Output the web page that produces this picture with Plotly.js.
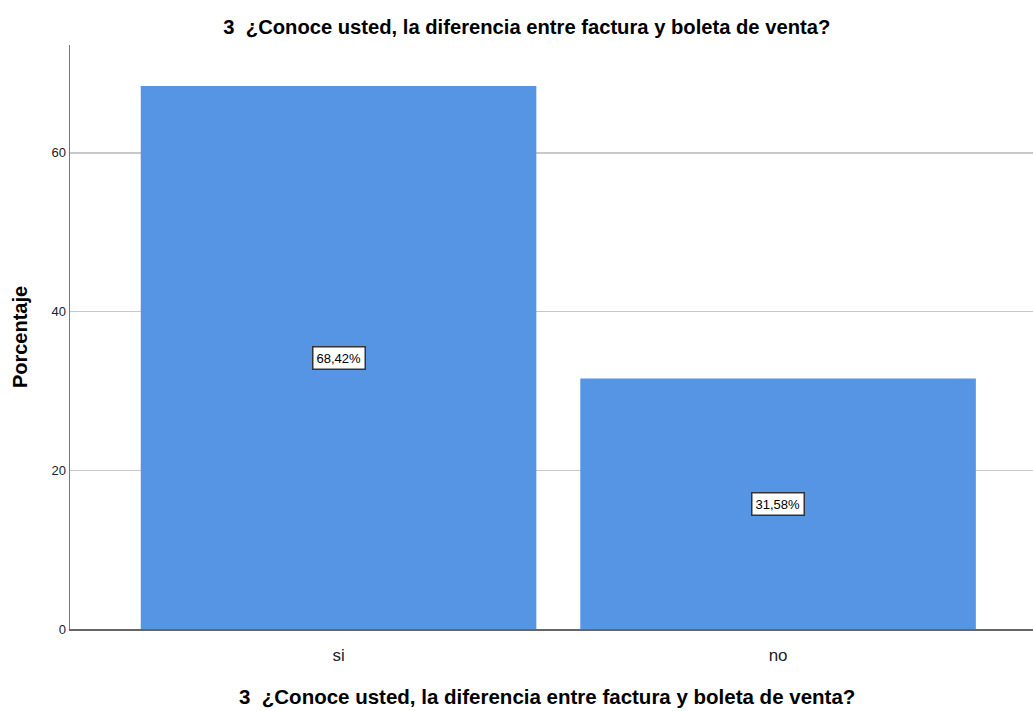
<!DOCTYPE html>
<html>
<head>
<meta charset="utf-8">
<script src="https://cdn.plot.ly/plotly-3.0.1.min.js"></script>
<style>html,body{margin:0;padding:0;background:#fff;}#chart{width:1033px;height:711px;}</style>
</head>
<body>
<div id="chart"></div>
<script>
const categories = ["si", "no"];
const percentages = [68.42, 31.58];
const labels = ["68,42%", "31,58%"];
const yTicks = [0, 20, 40, 60];
const chartTitle = "3  ¿Conoce usted, la diferencia entre factura y boleta de venta?";

const FONT = "'Liberation Sans', Arial, sans-serif";

const trace = {
  type: "bar",
  x: [0, 1],
  y: percentages,
  width: 0.9,
  marker: {color: "#5595e3", line: {width: 0}},
  hoverinfo: "skip"
};

const annotations = percentages.map((v, i) => ({
  x: i, y: v / 2, xref: "x", yref: "y",
  text: labels[i], showarrow: false,
  font: {family: FONT, size: 13, color: "#000"},
  bgcolor: "#ffffff", bordercolor: "#333", borderwidth: 1.5, borderpad: 3
}));
annotations.push({
  xref: "paper", yref: "paper", x: 0.495, y: -0.092,
  xanchor: "center", yanchor: "top", showarrow: false,
  text: "<b>" + chartTitle + "</b>", font: {family: FONT, size: 20.5, color: "#000"}
});

const layout = {
  width: 1033, height: 711,
  margin: {l: 70, r: 0, t: 45, b: 82},
  paper_bgcolor: "#fff", plot_bgcolor: "#fff",
  showlegend: false,
  title: {text: "<b>" + chartTitle + "</b>", font: {family: FONT, size: 20.2, color: "#000"}, x: 0.51, xanchor: "center", xref: "container", y: 0.962, yref: "container", yanchor: "middle"},
  xaxis: {
    range: [-0.611, 1.58],
    tickvals: [0, 1], ticktext: categories,
    showgrid: false, zeroline: false,
    showline: true, linecolor: "#666", linewidth: 1.5,
    ticks: "", ticklabelstandoff: 10,
    tickfont: {family: FONT, size: 17, color: "#222"},
    fixedrange: true
  },
  yaxis: {
    range: [0, 73.6],
    tickvals: yTicks, ticktext: yTicks.map(String),
    showgrid: true, gridcolor: "#c8c8c8", gridwidth: 1.5,
    zeroline: false,
    showline: true, linecolor: "#777", linewidth: 1.5,
    ticks: "", ticklen: 0,
    tickfont: {family: FONT, size: 13, color: "#222"},
    title: {text: "<b>Porcentaje</b>", font: {family: FONT, size: 20, color: "#000"}, standoff: 18},
    fixedrange: true
  },
  annotations: annotations
};

Plotly.newPlot("chart", [trace], layout, {displayModeBar: false, staticPlot: true});
</script>
</body>
</html>
